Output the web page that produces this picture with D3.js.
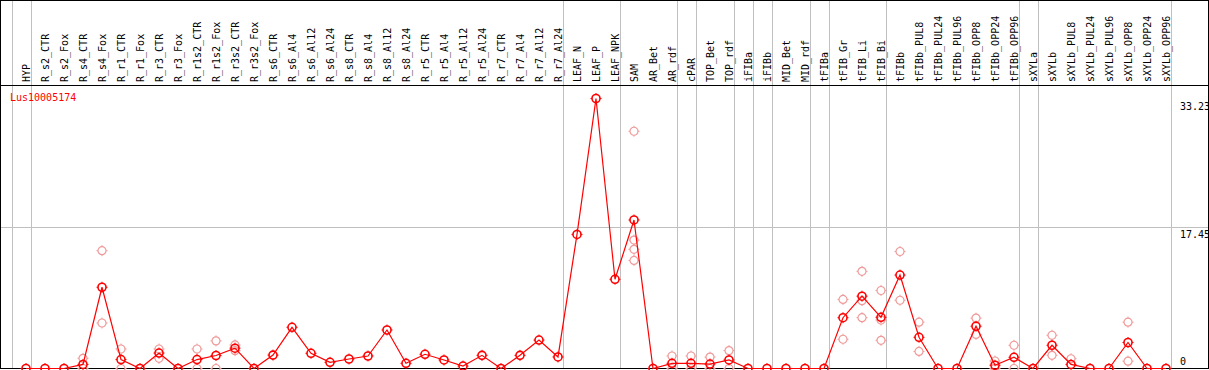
<!DOCTYPE html>
<html>
<head>
<meta charset=utf-8>
<title>Lus10005174</title>
<script src="https://d3js.org/d3.v7.min.js"></script>
<style>
  body { margin: 0; background: #fff; }
  text { font-family: 'DejaVu Sans Mono', monospace; font-size: 10px; }
</style>
</head>
<body>
<div id='chart'></div>
<script>

// data
var gene = 'Lus10005174';

var categories = ['HYP', 'R_s2_CTR', 'R_s2_Fox', 'R_s4_CTR', 'R_s4_Fox', 'R_r1_CTR', 'R_r1_Fox',
  'R_r3_CTR', 'R_r3_Fox', 'R_r1s2_CTR', 'R_r1s2_Fox', 'R_r3s2_CTR', 'R_r3s2_Fox',
  'R_s6_CTR', 'R_s6_Al4', 'R_s6_Al12', 'R_s6_Al24', 'R_s8_CTR', 'R_s8_Al4', 'R_s8_Al12', 'R_s8_Al24',
  'R_r5_CTR', 'R_r5_Al4', 'R_r5_Al12', 'R_r5_Al24', 'R_r7_CTR', 'R_r7_Al4', 'R_r7_Al12', 'R_r7_Al24',
  'LEAF_N', 'LEAF_P', 'LEAF_NPK', 'SAM', 'AR_Bet', 'AR_rdf', 'cPAR', 'TOP_Bet', 'TOP_rdf',
  'iFIBa', 'iFIBb', 'MID_Bet', 'MID_rdf', 'tFIBa', 'tFIB_Gr', 'tFIB_Li', 'tFIB_Bi', 'tFIBb',
  'tFIBb_PUL8', 'tFIBb_PUL24', 'tFIBb_PUL96', 'tFIBb_OPP8', 'tFIBb_OPP24', 'tFIBb_OPP96',
  'sXYLa', 'sXYLb', 'sXYLb_PUL8', 'sXYLb_PUL24', 'sXYLb_PUL96', 'sXYLb_OPP8', 'sXYLb_OPP24', 'sXYLb_OPP96'];

// mean expression per sample
var means = [0, 0, 0, 0.5, 10.0, 1.1, 0, 1.9, 0, 1.1, 1.6, 2.5, 0,
  1.65, 5.07, 1.87, 0.76, 1.17, 1.54, 4.74, 0.64,
  1.75, 1.05, 0.3, 1.62, 0, 1.62, 3.5, 1.42,
  16.5, 33.23, 10.98, 18.28, 0, 0.64, 0.64, 0.55, 1.05,
  0, 0, 0, 0, 0, 6.25, 8.9, 6.3, 11.5,
  3.84, 0, 0, 5.2, 0.4, 1.38,
  0, 2.86, 0.5, 0, 0, 3.2, 0, 0];

// individual replicates, by sample index
var replicates = {
  3: [1.25, 0], 4: [14.5, 5.6], 5: [2.4, 0], 7: [2.4, 1.25], 9: [2.4, 0],
  10: [3.4, 0], 11: [2.9, 2.2],
  32: [29.2, 15.8, 14.67, 13.3],
  34: [1.54, 0], 35: [1.54, 0], 36: [1.4, 0], 37: [2.2, 0],
  43: [8.5, 3.6], 44: [11.96, 8.35, 6.25], 45: [9.6, 5.97, 3.47], 46: [14.4, 8.4],
  47: [5.7, 2.1], 50: [6.2, 4.2], 51: [0.92, 0], 52: [2.86, 0],
  54: [4.09, 1.62], 55: [1.2], 58: [5.7, 0.9]
};

// group separators sit after these sample indexes
var groupEnds = [-1, 0, 28, 31, 34, 35, 37, 38, 39, 41, 42, 45, 52, 53, 60];

var yTicks = [0, 17.45, 33.23];

var width = 1209, height = 370;

var svg = d3.select('#chart').append('svg')
  .attr('width', width)
  .attr('height', height);

var x = d3.scalePoint().domain(categories).range([26, 1166]);
var step = x.step();
var y = d3.scaleLinear().domain([0, 33.23]).range([368.5, 98.5]);

// gray grid
svg.append('g')
  .selectAll('line')
  .data(groupEnds)
  .enter().append('line')
    .attr('x1', function (i) { return Math.round(26 + step * i + 5) + 0.5; })
    .attr('x2', function (i) { return Math.round(26 + step * i + 5) + 0.5; })
    .attr('y1', 0)
    .attr('y2', 369)
    .attr('stroke', '#c0c0c0');

svg.append('line')
  .attr('x1', 0).attr('x2', 1208)
  .attr('y1', Math.round(y(17.45)) + 0.5).attr('y2', Math.round(y(17.45)) + 0.5)
  .attr('stroke', '#c0c0c0');

// frame
svg.append('rect')
  .attr('x', 0.5).attr('y', 0.5)
  .attr('width', 1208).attr('height', 368)
  .attr('fill', 'none')
  .attr('stroke', '#000');

svg.append('line')
  .attr('x1', 0).attr('x2', 1209)
  .attr('y1', 85.5).attr('y2', 85.5)
  .attr('stroke', '#000');

// sample labels
svg.append('g')
  .selectAll('text')
  .data(categories)
  .enter().append('text')
    .attr('transform', function (d) { return 'translate(' + (x(d) + 4) + ',82) rotate(-90)'; })
    .attr('fill', '#000')
    .text(function (d) { return d; });

// value labels on the right
svg.append('g')
  .selectAll('text')
  .data(yTicks)
  .enter().append('text')
    .attr('x', 1180)
    .attr('y', function (d) { return Math.min(y(d) + 11.5, 365); })
    .attr('fill', '#000')
    .text(function (d) { return d === 0 ? '0' : d.toFixed(2); });

svg.append('text')
  .attr('x', 10).attr('y', 101)
  .attr('fill', '#ff0000')
  .text(gene);

function marker(g, color, sw) {
  g.append('circle')
    .attr('r', 4)
    .attr('fill', 'none')
    .attr('stroke', color)
    .attr('stroke-width', sw);
  g.append('path')
    .attr('d', 'M0,-4V-5.5M0,4V5.5M-4,0H-5.5M4,0H5.5')
    .attr('stroke', color)
    .attr('stroke-width', 1);
}

// replicate dots
var reps = [];
for (var k in replicates) {
  replicates[k].forEach(function (v) { reps.push({i: +k, v: v}); });
}

svg.append('g')
  .selectAll('g')
  .data(reps)
  .enter().append('g')
    .attr('transform', function (d) { return 'translate(' + x(categories[d.i]) + ',' + y(d.v) + ')'; })
    .each(function () { marker(d3.select(this), '#f09a9a', 1.2); });

// mean line
var line = d3.line()
  .x(function (d, i) { return x(categories[i]); })
  .y(function (d) { return y(d); });

svg.append('path')
  .datum(means)
  .attr('d', line)
  .attr('fill', 'none')
  .attr('stroke', '#ff0000')
  .attr('stroke-width', 1.2);

svg.append('g')
  .selectAll('g')
  .data(means)
  .enter().append('g')
    .attr('transform', function (d, i) { return 'translate(' + x(categories[i]) + ',' + y(d) + ')'; })
    .each(function () { marker(d3.select(this), '#ff0000', 1.6); });

</script>
</body>
</html>
